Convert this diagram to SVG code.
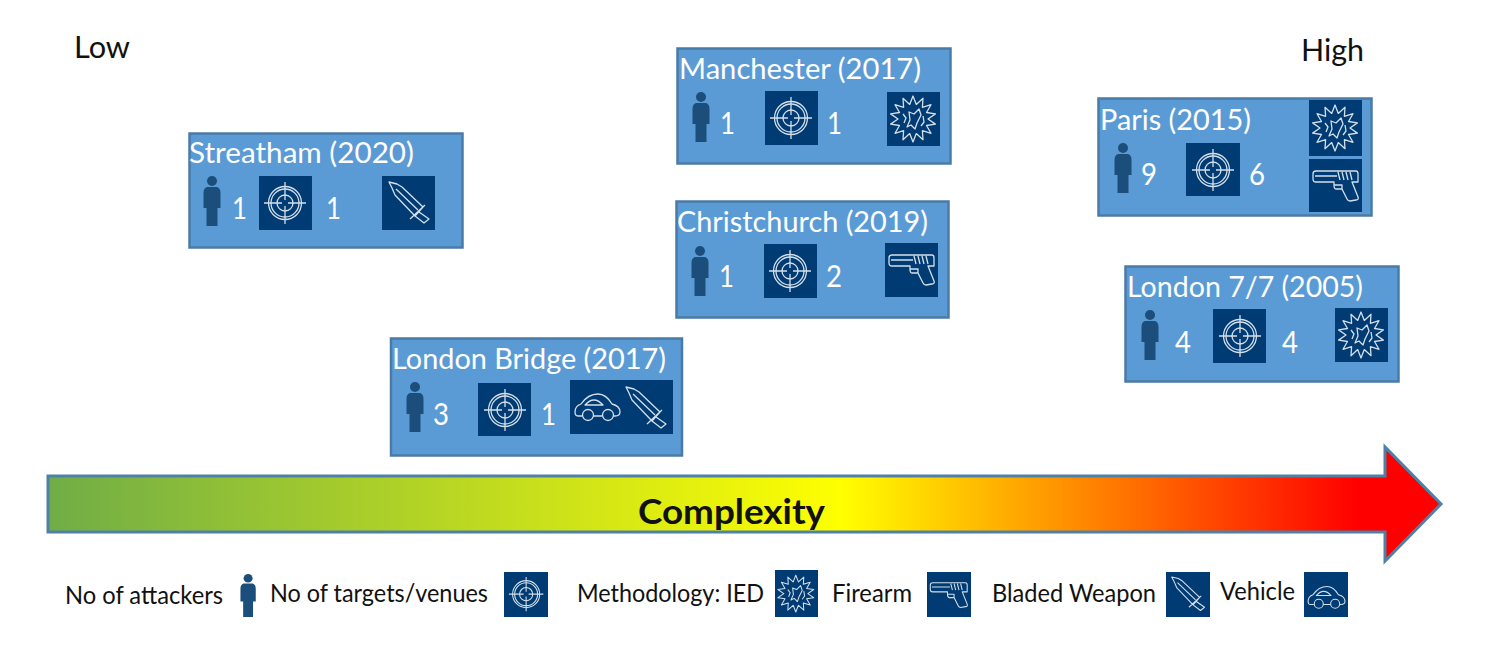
<svg xmlns="http://www.w3.org/2000/svg" width="1492" height="650" viewBox="0 0 1492 650">
<style>
.box{fill:#5b9bd5;stroke:#4a7ba6;stroke-width:2.5}
.bg{fill:#003b73}
.ic{fill:none;stroke:#d3dfea;stroke-width:1.3;stroke-linejoin:round}
.pf{fill:#1c4e7c}
text{font-family:"Lato","Liberation Sans",sans-serif}
.t{fill:#fff;font-size:29.500px}
.n{fill:#fff;font-size:30px}
.k{fill:#111;font-size:24.500px}
.h{fill:#111;font-size:31px}
</style>
<defs>
<linearGradient id="g" x1="48" y1="0" x2="1441" y2="0" gradientUnits="userSpaceOnUse">
<stop offset="0" stop-color="#70ad47"/><stop offset="0.57" stop-color="#ffff00"/><stop offset="0.94" stop-color="#ff0000"/><stop offset="1" stop-color="#ff0000"/>
</linearGradient>
<symbol id="person" overflow="visible"><circle cx="9" cy="5" r="5" class="pf"/><path class="pf" d="M4 11H14Q17.500 12 17.500 17V32H14.500V50H3.500V32H0.500V17Q0.500 12 4 11Z"/></symbol>
<symbol id="target" overflow="visible"><g class="ic"><circle cx="27" cy="27" r="16.500"/><circle cx="27" cy="27" r="14"/><circle cx="27" cy="27" r="8"/><path d="M27 6V24M27 30V48M6 27H24M30 27H48"/></g></symbol>
<symbol id="knife" overflow="visible"><path class="ic" d="M7 6L15 8L20 11L41 31L33 40L13 19L10 12ZM14 13L36 34M28 43L43 29M37 36L47 43L42 47L33 40"/></symbol>
<symbol id="blast" overflow="visible"><path class="ic" d="M26 4L29.300 12.400L36 6.300L35.400 15.300L44 12.700L39.500 20.500L48.400 21.900L41 27L48.400 32.100L39.500 33.500L44 41.300L35.400 38.700L36 47.700L29.300 41.600L26 50L22.700 41.600L16 47.700L16.600 38.700L8 41.300L12.500 33.500L3.600 32.100L11 27L3.600 21.900L12.500 20.500L8 12.700L16.600 15.300L16 6.300L22.700 12.400Z"/><path class="ic" d="M22 20L27 22L32 17L34 23L30 31L28 37L24 33L20 35L23 28ZM16 22L19 26L17 31M36 24L37 30L34 34"/></symbol>
<symbol id="gun" overflow="visible"><path class="ic" d="M7 12H47Q49 12 49 15V23H43L49 38Q50 41 47 41L41 42Q39 42 38 40L33 30H27Q25 30 25 26V23H7Q4 23 4 20V15Q4 12 7 12ZM6 17H28M29 13L31 21M33 13L35 21M37 13L39 21M41 13L43 21M25 26H33L33 30"/></symbol>
<symbol id="car" overflow="visible"><path class="ic" d="M12 36H8Q5 36 5 32Q5 26 11 24Q18 14 28 14Q36 14 42 24Q50 26 50 32Q50 36 45 36H43.500M32.500 36H23.500M15 25Q24 15 33 25Z"/><circle class="ic" cx="18" cy="35" r="5.500"/><circle class="ic" cx="38" cy="35" r="5.500"/></symbol>
</defs>

<g id="connectors"></g>

<g id="axis-low"><text class="h" x="74" y="58" textLength="56" lengthAdjust="spacingAndGlyphs">Low</text></g>
<g id="axis-high"><text class="h" x="1301" y="61" textLength="63" lengthAdjust="spacingAndGlyphs">High</text></g>

<g id="streatham">
<rect class="box" x="189.500" y="133.500" width="273" height="114"/>
<text class="t" x="189" y="163" textLength="225" lengthAdjust="spacingAndGlyphs">Streatham (2020)</text>
<use href="#person" x="203" y="176"/><text class="n" x="232" y="219" textLength="15" lengthAdjust="spacingAndGlyphs">1</text>
<rect class="bg" x="259" y="176" width="53" height="54"/><use href="#target" x="258" y="176"/><text class="n" x="326" y="219" textLength="15" lengthAdjust="spacingAndGlyphs">1</text>
<rect class="bg" x="382" y="176" width="53" height="54"/><use href="#knife" x="382" y="176"/>
</g>

<g id="manchester">
<rect class="box" x="677.500" y="48.500" width="273" height="115"/>
<text class="t" x="679" y="79" textLength="242" lengthAdjust="spacingAndGlyphs">Manchester (2017)</text>
<use href="#person" x="692" y="92"/><text class="n" x="720" y="134" textLength="15" lengthAdjust="spacingAndGlyphs">1</text>
<rect class="bg" x="765" y="91" width="53" height="54"/><use href="#target" x="764" y="91"/><text class="n" x="827" y="134" textLength="15" lengthAdjust="spacingAndGlyphs">1</text>
<rect class="bg" x="887" y="92" width="53" height="54"/><use href="#blast" x="887" y="92"/>
</g>

<g id="christchurch">
<rect class="box" x="676.500" y="201.500" width="272" height="116"/>
<text class="t" x="677" y="232" textLength="251" lengthAdjust="spacingAndGlyphs">Christchurch (2019)</text>
<use href="#person" x="691" y="246"/><text class="n" x="719" y="287" textLength="15" lengthAdjust="spacingAndGlyphs">1</text>
<rect class="bg" x="764" y="244" width="53" height="54"/><use href="#target" x="763" y="244"/><text class="n" x="826" y="287" textLength="16" lengthAdjust="spacingAndGlyphs">2</text>
<rect class="bg" x="885" y="243" width="53" height="54"/><use href="#gun" x="885" y="243"/>
</g>

<g id="london-bridge">
<rect class="box" x="391" y="338.500" width="291" height="117"/>
<text class="t" x="392" y="369" textLength="274" lengthAdjust="spacingAndGlyphs">London Bridge (2017)</text>
<use href="#person" x="406" y="382"/><text class="n" x="433" y="425" textLength="16" lengthAdjust="spacingAndGlyphs">3</text>
<rect class="bg" x="478" y="383" width="53" height="53"/><use href="#target" x="478" y="383"/><text class="n" x="541" y="425" textLength="15" lengthAdjust="spacingAndGlyphs">1</text>
<rect class="bg" x="570" y="380" width="103" height="54"/><use href="#car" x="570" y="380"/><use href="#knife" x="619" y="381"/>
</g>

<g id="paris">
<rect class="box" x="1098.500" y="98.500" width="273" height="117"/>
<text class="t" x="1100" y="130" textLength="151" lengthAdjust="spacingAndGlyphs">Paris (2015)</text>
<use href="#person" x="1114" y="143"/><text class="n" x="1141" y="185" textLength="16" lengthAdjust="spacingAndGlyphs">9</text>
<rect class="bg" x="1186" y="143" width="54" height="53"/><use href="#target" x="1186" y="143"/><text class="n" x="1249" y="185" textLength="16" lengthAdjust="spacingAndGlyphs">6</text>
<rect class="bg" x="1309" y="100" width="53" height="56"/><use href="#blast" x="1309" y="101"/>
<rect class="bg" x="1309" y="159" width="53" height="53"/><use href="#gun" x="1309" y="159"/>
</g>

<g id="london-77">
<rect class="box" x="1125.500" y="266.500" width="273" height="115"/>
<text class="t" x="1127" y="297" textLength="236" lengthAdjust="spacingAndGlyphs">London 7/7 (2005)</text>
<use href="#person" x="1141" y="310"/><text class="n" x="1175" y="353" textLength="16" lengthAdjust="spacingAndGlyphs">4</text>
<rect class="bg" x="1213" y="309" width="53" height="54"/><use href="#target" x="1213" y="309"/><text class="n" x="1282" y="353" textLength="16" lengthAdjust="spacingAndGlyphs">4</text>
<rect class="bg" x="1335" y="308" width="53" height="54"/><use href="#blast" x="1335" y="308"/>
</g>

<g id="complexity-arrow">
<path fill="url(#g)" stroke="#4f81a8" stroke-width="3" d="M48 476H1385V447L1441 504L1385 561V532H48Z"/>
<text x="638" y="524" font-size="35" font-weight="700" fill="#111" textLength="187" lengthAdjust="spacingAndGlyphs">Complexity</text>
</g>

<g id="legend">
<text class="k" x="65" y="604" textLength="158" lengthAdjust="spacingAndGlyphs">No of attackers</text>
<use href="#person" transform="translate(240 574) scale(0.9 0.86)"/>
<text class="k" x="270" y="602" textLength="218" lengthAdjust="spacingAndGlyphs">No of targets/venues</text>
<rect class="bg" x="504" y="572" width="44" height="45"/><use href="#target" transform="translate(504 572) scale(0.82)"/>
<text class="k" x="577" y="602" textLength="187" lengthAdjust="spacingAndGlyphs">Methodology: IED</text>
<rect class="bg" x="775" y="570" width="43" height="47"/><use href="#blast" transform="translate(775 572) scale(0.8)"/>
<text class="k" x="832" y="602" textLength="80" lengthAdjust="spacingAndGlyphs">Firearm</text>
<rect class="bg" x="927" y="572" width="44" height="45"/><use href="#gun" transform="translate(927 573) scale(0.82)"/>
<text class="k" x="992" y="602" textLength="164" lengthAdjust="spacingAndGlyphs">Bladed Weapon</text>
<rect class="bg" x="1166" y="572" width="44" height="45"/><use href="#knife" transform="translate(1166 572) scale(0.82)"/>
<text class="k" x="1220" y="600" textLength="75" lengthAdjust="spacingAndGlyphs">Vehicle</text>
<rect class="bg" x="1304" y="572" width="44" height="45"/><use href="#car" transform="translate(1304 575) scale(0.82)"/>
</g>
</svg>
